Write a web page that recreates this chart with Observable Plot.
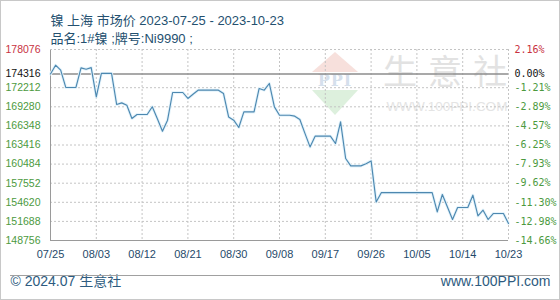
<!DOCTYPE html>
<html>
<head>
<meta charset="utf-8">
<script src="https://cdn.jsdelivr.net/npm/d3@7"></script>
<script src="https://cdn.jsdelivr.net/npm/@observablehq/plot@0.6"></script>
<style>
  html, body { margin: 0; padding: 0; background: #fff; }
  #chart svg { display: block; }
</style>
</head>
<body>
<div id="chart"></div>
<script>
// ---- data ----
const startDate = "2023-07-25";
const prices = [
  174316, 175666, 174900, 172250, 172250, 172250, 175250, 175050, 175300, 170800,
  174400, 174400, 174400, 169630, 169880, 169525, 167485, 168100, 168100, 168100,
  169280, 167440, 165535, 167225, 171475, 171475, 171475, 170555, 171200, 171830,
  171830, 171830, 171830, 171830, 171320, 167730, 167225, 166100, 168500, 168500,
  168500, 172090, 171830, 172860, 169270, 167990, 167990, 167990, 167840, 167330,
  165200, 163125, 164770, 164770, 164770, 164770, 163640, 166960, 161345, 160210,
  160210, 160210, 160550, 160976, 154680, 156100, 156100, 156100, 156100, 156100,
  156100, 156100, 156100, 156100, 156100, 156100, 153150, 155820, 153900, 151980,
  153825, 153825, 153825, 155710, 152535, 153410, 151980, 152900, 152900, 152900,
  151370
];
const baseValue = 174316;
const yTickValues = [178076, 174316, 172212, 169280, 166348, 163416, 160484, 157552, 154620, 151688, 148756];
const pctLabels = ["2.16%", "0.00%", "-1.21%", "-2.89%", "-4.57%", "-6.25%", "-7.93%", "-9.62%", "-11.30%", "-12.98%", "-14.66%"];
const xTickLabels = ["07/25", "08/03", "08/12", "08/21", "08/30", "09/08", "09/17", "09/26", "10/05", "10/14", "10/23"];
const titleText = "镍 上海 市场价 2023-07-25 - 2023-10-23";
const subtitleText = "品名:1#镍 ;牌号:Ni9990 ;";
const footerLeft = "© 2024.07 生意社";
const footerRight = "www.100PPI.com";
const watermarkChars = ["生", "意", "社"];
const watermarkUrl = "WWW.100PPI.COM";

// ---- build ----
const t0 = new Date(startDate + "T00:00:00Z");
const series = prices.map((v, i) => ({date: d3.utcDay.offset(t0, i), value: v}));
const xTicks = xTickLabels.map(s => new Date(`2023-${s.replace("/", "-")}T00:00:00Z`));
const yMin = d3.min(yTickValues), yMax = d3.max(yTickValues);
const gridVals = yTickValues.filter(v => v !== baseValue && v !== yMin);

const red = "#c8323f", green = "#4c9a3e", black = "#111";
const tickColor = v => v === yMax ? red : v === baseValue ? black : green;
const sansFont = "'Liberation Sans', Arial, 'Noto Sans CJK SC', sans-serif";
const monoFont = "'DejaVu Sans Mono', monospace";

const chart = Plot.plot({
  width: 560,
  height: 300,
  marginLeft: 50,
  marginRight: 52,
  marginTop: 49,
  marginBottom: 60,
  style: {fontFamily: sansFont, background: "#fff"},
  x: {type: "utc", domain: [series[0].date, series[series.length - 1].date], axis: null},
  y: {domain: [yMin, yMax], axis: null},
  color: {type: "identity"},
  marks: [
    Plot.ruleY(gridVals, {stroke: "#c4c4c4", strokeDasharray: "2,2"}),
    Plot.ruleX(xTicks.slice(1), {stroke: "#c4c4c4", strokeDasharray: "2,2"}),
    Plot.ruleY([baseValue], {stroke: "#8c8c8c", strokeWidth: 1.3}),
    Plot.ruleX([xTicks[0]], {stroke: "#9a9a9a"}),
    Plot.ruleY([yMin], {stroke: "#9a9a9a"}),
    Plot.line(series, {x: "date", y: "value", stroke: "#e4f3fb", strokeWidth: 3}),
    Plot.line(series, {x: "date", y: "value", stroke: "#4d88b0", strokeWidth: 1.15}),
    Plot.text(yTickValues, {y: d => d, text: d => String(d), frameAnchor: "left", dx: -10, textAnchor: "end",
      fill: d => tickColor(d), fontSize: 10.5, fontFamily: sansFont}),
    Plot.text(yTickValues, {y: d => d, text: (d, i) => pctLabels[i], frameAnchor: "right", dx: 6, textAnchor: "start",
      fill: d => tickColor(d), fontSize: 10, fontFamily: monoFont}),
    Plot.text(xTicks, {x: d => d, text: (d, i) => xTickLabels[i], frameAnchor: "bottom", dy: 17,
      fill: "#1f4a6a", fontSize: 11, fontFamily: sansFont}),
    Plot.text([titleText], {frameAnchor: "top-left", dy: -34, textAnchor: "start", fill: "#24506f", fontSize: 13, fontFamily: sansFont}),
    Plot.text([subtitleText], {frameAnchor: "top-left", dy: -16, textAnchor: "start", fill: "#24506f", fontSize: 13, fontFamily: sansFont}),
    Plot.text([footerLeft], {frameAnchor: "bottom-left", dx: -40, dy: 45, textAnchor: "start", fill: "#2d5b80", fontSize: 14, fontFamily: sansFont}),
    Plot.text([footerRight], {frameAnchor: "bottom-right", dx: 42, dy: 45, textAnchor: "end", fill: "#2d5b80", fontSize: 14, fontFamily: sansFont})
  ]
});

const svg = d3.select(chart);
// watermark (under the marks)
const wm = svg.insert("g", "g").attr("pointer-events", "none");
wm.append("path").attr("d", "M335,52 L358,72 L312,72 Z").attr("fill", "#f7e0dc");
wm.append("text").attr("x", 335).attr("y", 86).attr("text-anchor", "middle")
  .attr("font-family", "'DejaVu Serif', serif").attr("font-weight", "bold").attr("font-size", 16)
  .attr("fill", "#d5e0ec").attr("letter-spacing", 1).text("PPI");
wm.append("path").attr("d", "M312,90 L358,90 L335,115 Z").attr("fill", "#ddf0dd");
watermarkChars.forEach((c, i) => {
  wm.append("text").attr("x", 400 + i * 45).attr("y", 84).attr("text-anchor", "middle")
    .attr("font-family", "'Noto Sans CJK SC', sans-serif").attr("font-size", 34)
    .attr("fill", "#e2e2e2").text(c);
});
wm.append("text").attr("x", 447).attr("y", 111).attr("text-anchor", "middle")
  .attr("font-family", sansFont).attr("font-size", 13.5).attr("fill", "#e4e4e4").text(watermarkUrl);
// footer separator and outer border
svg.append("line").attr("x1", 10).attr("x2", 550).attr("y1", 275.5).attr("y2", 275.5).attr("stroke", "#a0a0a0");
svg.append("rect").attr("x", 0.5).attr("y", 0.5).attr("width", 559).attr("height", 299)
  .attr("fill", "none").attr("stroke", "#c8c8c8");
// top frame edge (dashed)
svg.append("line").attr("x1", 50).attr("x2", 508).attr("y1", 49.5).attr("y2", 49.5).attr("stroke", "#c4c4c4").attr("stroke-dasharray", "2,2");

document.getElementById("chart").appendChild(chart);
</script>
</body>
</html>
